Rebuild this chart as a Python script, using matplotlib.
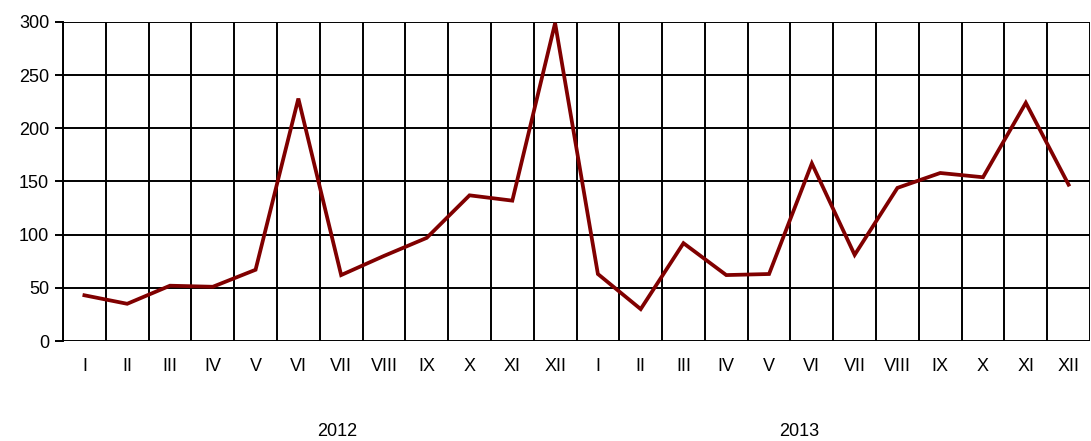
import matplotlib
matplotlib.use('Agg')
import matplotlib.pyplot as plt
import numpy as np

months = ['I', 'II', 'III', 'IV', 'V', 'VI', 'VII', 'VIII', 'IX', 'X', 'XI', 'XII']
years = ['2012', '2013']
values_2012 = [43, 35, 52, 51, 67, 228, 62, 80, 97, 137, 132, 299]
values_2013 = [63, 30, 92, 62, 63, 167, 81, 144, 158, 154, 224, 147]


def main():
    plt.rcParams['font.family'] = ['Liberation Sans', 'DejaVu Sans']
    values = values_2012 + values_2013
    labels = months * len(years)
    x = np.arange(len(values))

    fig = plt.figure(figsize=(10.91, 4.41), dpi=100)
    ax = fig.add_axes([63 / 1091, 100 / 441, 1027 / 1091, 319 / 441])

    ax.plot(x, values, color='#800000', linewidth=2.7, solid_joinstyle='miter', zorder=3)

    ax.set_xlim(-0.5, len(values) - 0.5)
    ax.set_ylim(0, 300)
    ax.set_yticks(range(0, 301, 50))
    ax.set_xticks(x)
    ax.set_xticklabels(labels)
    ax.set_xticks(np.arange(-0.5, len(values), 1), minor=True)

    ax.grid(axis='y', which='major', color='black', linewidth=1.4)
    ax.grid(axis='x', which='minor', color='black', linewidth=1.4)
    for s in ['top', 'right', 'bottom']:
        ax.spines[s].set_visible(False)
    ax.spines['left'].set_linewidth(1.4)
    ax.tick_params(axis='y', length=6, width=1.4, labelsize=13, pad=4)
    ax.tick_params(axis='x', which='both', length=0, labelsize=13, pad=12)

    for i, yr in enumerate(years):
        ax.text(5.9 + i * 10.8, -0.285, yr, transform=ax.get_xaxis_transform(),
                ha='center', va='center', fontsize=13)

    fig.savefig('out.png', dpi=100)


if __name__ == '__main__':
    main()
